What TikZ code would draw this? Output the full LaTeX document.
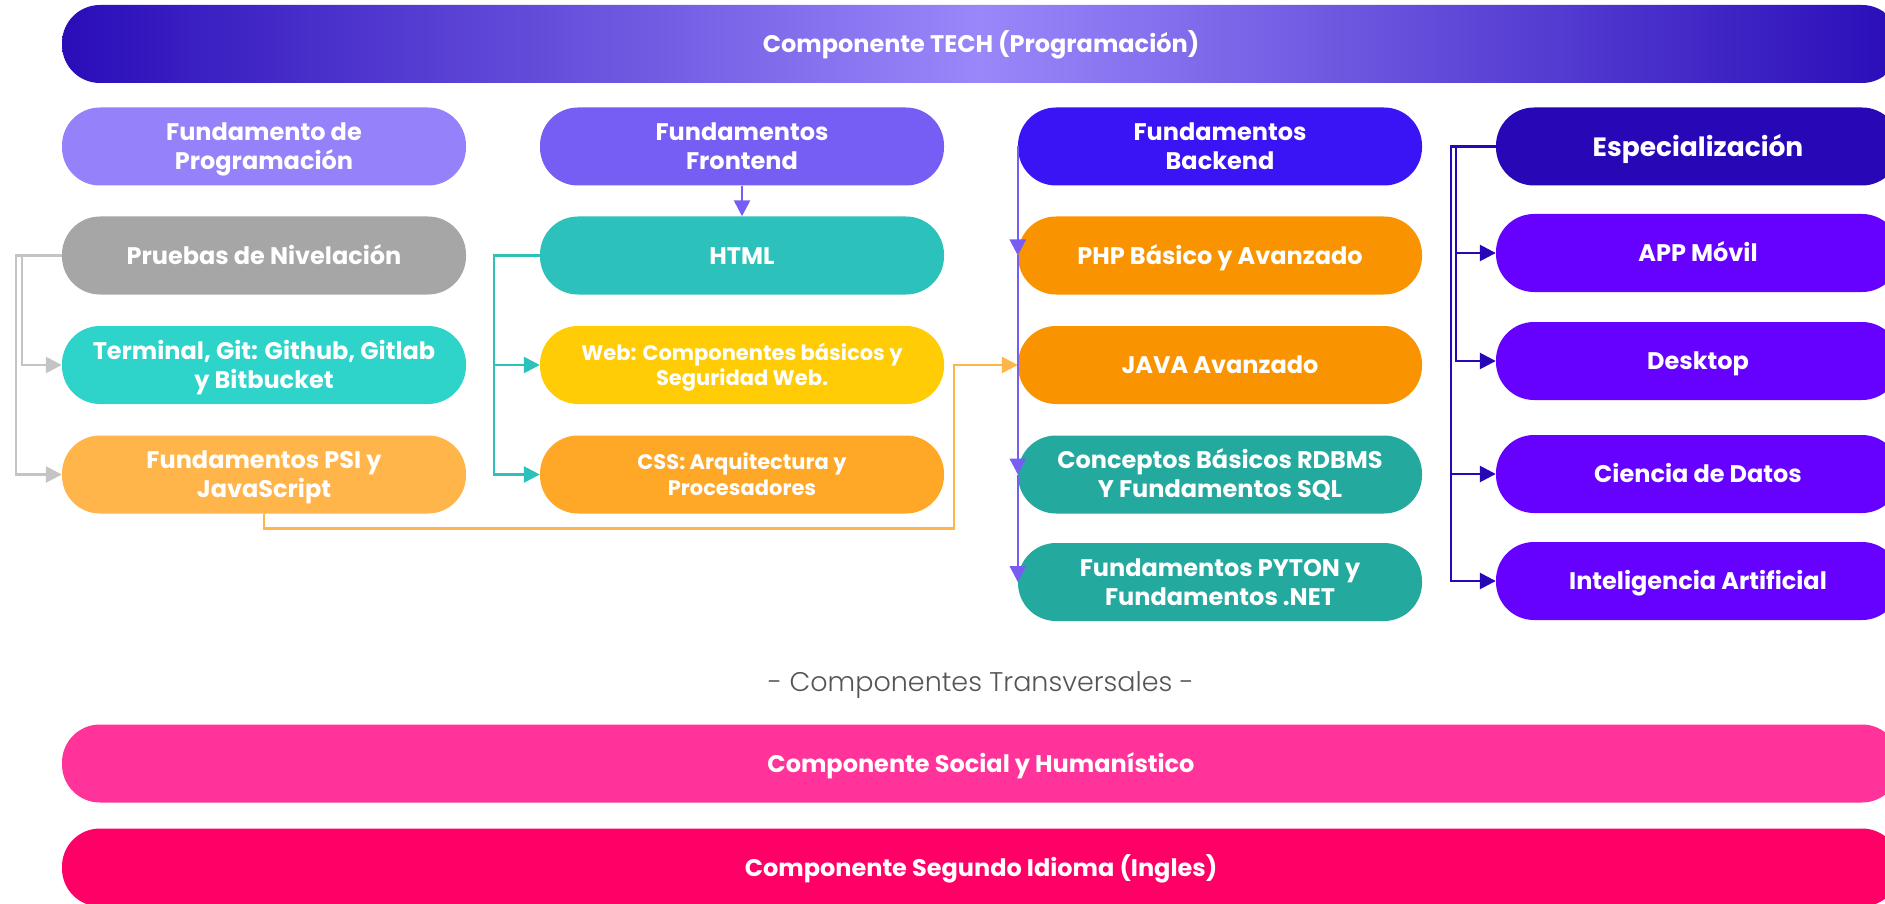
\documentclass[tikz,border=0pt]{standalone}
\usepackage{fontspec}
\setmainfont{Poppins}
\newfontfamily\lightfont{Poppins Light}
\usetikzlibrary{arrows.meta}
\definecolor{gradDark}{HTML}{2A0DB8}
\definecolor{gradLight}{HTML}{9A87FA}
\definecolor{cProg}{HTML}{9581F9}
\definecolor{cFront}{HTML}{765EF5}
\definecolor{cBack}{HTML}{3B14F5}
\definecolor{cEsp}{HTML}{2808B6}
\definecolor{cSpec}{HTML}{6600FF}
\definecolor{cGrey}{HTML}{A6A6A6}
\definecolor{cHtml}{HTML}{2CC1BA}
\definecolor{cTerm}{HTML}{2ED3CA}
\definecolor{cPsi}{HTML}{FFB54A}
\definecolor{cWeb}{HTML}{FFCC05}
\definecolor{cCss}{HTML}{FFA726}
\definecolor{cPhp}{HTML}{F99400}
\definecolor{cSql}{HTML}{24A99F}
\definecolor{cSocial}{HTML}{FF3399}
\definecolor{cIdioma}{HTML}{FF0066}
\definecolor{cLineGrey}{HTML}{C4C4C4}
\definecolor{cTrans}{HTML}{555555}
\newcommand\boxfont{\fontsize{24}{29}\selectfont\bfseries}
\newcommand\smallboxfont{\fontsize{21}{25.5}\selectfont\bfseries}
\newcommand\bigboxfont{\fontsize{26.5}{31}\selectfont\bfseries}
\newcommand\lbx[2][17.5pt]{\raisebox{0pt}[#1][0pt]{#2}}
\begin{document}
\begin{tikzpicture}[x=1pt,y=-1pt,
  pill/.style={rectangle, rounded corners=38pt, minimum width=404pt, minimum height=78pt,
    inner sep=0pt, text=white, align=center, font=\boxfont},
  bar/.style={rectangle, rounded corners=38pt, minimum width=1838pt, minimum height=78pt,
    inner sep=0pt, text=white, align=center, font=\boxfont},
  conn/.style={line width=2.6pt, -{Triangle[length=16pt,width=16pt]}}
]
\useasboundingbox (0,0) rectangle (1885,904);
\clip (0,0) rectangle (1885,904);

% top bar
\node[bar, left color=gradDark, right color=gradDark, middle color=gradLight] (tech) at (981,44) {\lbx{Componente TECH (Programación)}};

% column 1
\node[pill, fill=cProg] (fprog) at (264,146.5) {\lbx{Fundamento de}\\\lbx{Programación}};
\node[pill, fill=cGrey] (pruebas) at (264,255.5) {\lbx{Pruebas de Nivelación}};
\node[pill, fill=cTerm] (terminal) at (264,365) {\lbx{Terminal, Git: Github, Gitlab}\\\lbx{y Bitbucket}};
\node[pill, fill=cPsi] (psi) at (264,474.5) {\lbx{Fundamentos PSI y}\\\lbx{JavaScript}};

% column 2
\node[pill, fill=cFront] (ffront) at (742,146.5) {\lbx{Fundamentos}\\\lbx{Frontend}};
\node[pill, fill=cHtml] (html) at (742,255.5) {\lbx{HTML}};
\node[pill, fill=cWeb, font=\smallboxfont] (web) at (742,365) {\lbx[15.5pt]{Web: Componentes básicos y}\\\lbx[15.5pt]{Seguridad Web.}};
\node[pill, fill=cCss, font=\smallboxfont] (css) at (742,474.5) {\lbx[15.5pt]{CSS: Arquitectura y}\\\lbx[15.5pt]{Procesadores}};

% column 3
\node[pill, fill=cBack] (fback) at (1220,146.5) {\lbx{Fundamentos}\\\lbx{Backend}};
\node[pill, fill=cPhp] (php) at (1220,255.5) {\lbx{PHP Básico y Avanzado}};
\node[pill, fill=cPhp] (java) at (1220,365) {\lbx{JAVA Avanzado}};
\node[pill, fill=cSql] (rdbms) at (1220,474.5) {\lbx{Conceptos Básicos RDBMS}\\\lbx{Y Fundamentos SQL}};
\node[pill, fill=cSql] (pyton) at (1220,582) {\lbx{Fundamentos PYTON y}\\\lbx{Fundamentos .NET}};

% column 4
\node[pill, fill=cEsp, font=\bigboxfont] (esp) at (1698,146.5) {\lbx[19.5pt]{Especialización}};
\node[pill, fill=cSpec] (app) at (1698,253) {\lbx{APP Móvil}};
\node[pill, fill=cSpec] (desk) at (1698,361) {\lbx{Desktop}};
\node[pill, fill=cSpec] (cien) at (1698,474) {\lbx{Ciencia de Datos}};
\node[pill, fill=cSpec] (ia) at (1698,581) {\lbx{Inteligencia Artificial}};

% transversal
\node[text=cTrans, font=\fontsize{27}{31}\selectfont\lightfont] (trans) at (981,685) {- Componentes Transversales -};
\node[bar, fill=cSocial] (social) at (981,763.5) {\lbx{Componente Social y Humanístico}};
\node[bar, fill=cIdioma] (idioma) at (981,867.5) {\lbx{Componente Segundo Idioma (Ingles)}};

% grey connectors
\draw[conn, cLineGrey] (pruebas.west) -- ++(-46,0) |- (psi.west);
\draw[conn, cLineGrey] (pruebas.west) -- ++(-40,0) |- (terminal.west);

% teal connectors
\draw[conn, cHtml] (html.west) -- ++(-46,0) |- (css.west);
\draw[conn, cHtml] ([xshift=-46pt]html.west) |- (web.west);

% frontend -> html
\draw[conn, cFront] (ffront.south) -- (html.north);

% orange connector
\draw[conn, cPsi] (psi.south) -- ++(0,15) -| ([xshift=-64pt]java.west) -- (java.west);

% backend vertical
\draw[conn, cFront] (fback.west) -- (php.west);
\draw[conn, cFront] (php.west) -- (rdbms.west);
\draw[conn, cFront] (rdbms.west) -- (pyton.west);

% especializacion connectors
\draw[conn, cEsp] (esp.west) -- ++(-40,0) |- (desk.west);
\draw[conn, cEsp] ([xshift=-40pt]esp.west) |- (app.west);
\draw[conn, cEsp] (esp.west) -- ++(-45,0) |- (ia.west);
\draw[conn, cEsp] ([xshift=-45pt]esp.west) |- (cien.west);
\end{tikzpicture}
\end{document}
